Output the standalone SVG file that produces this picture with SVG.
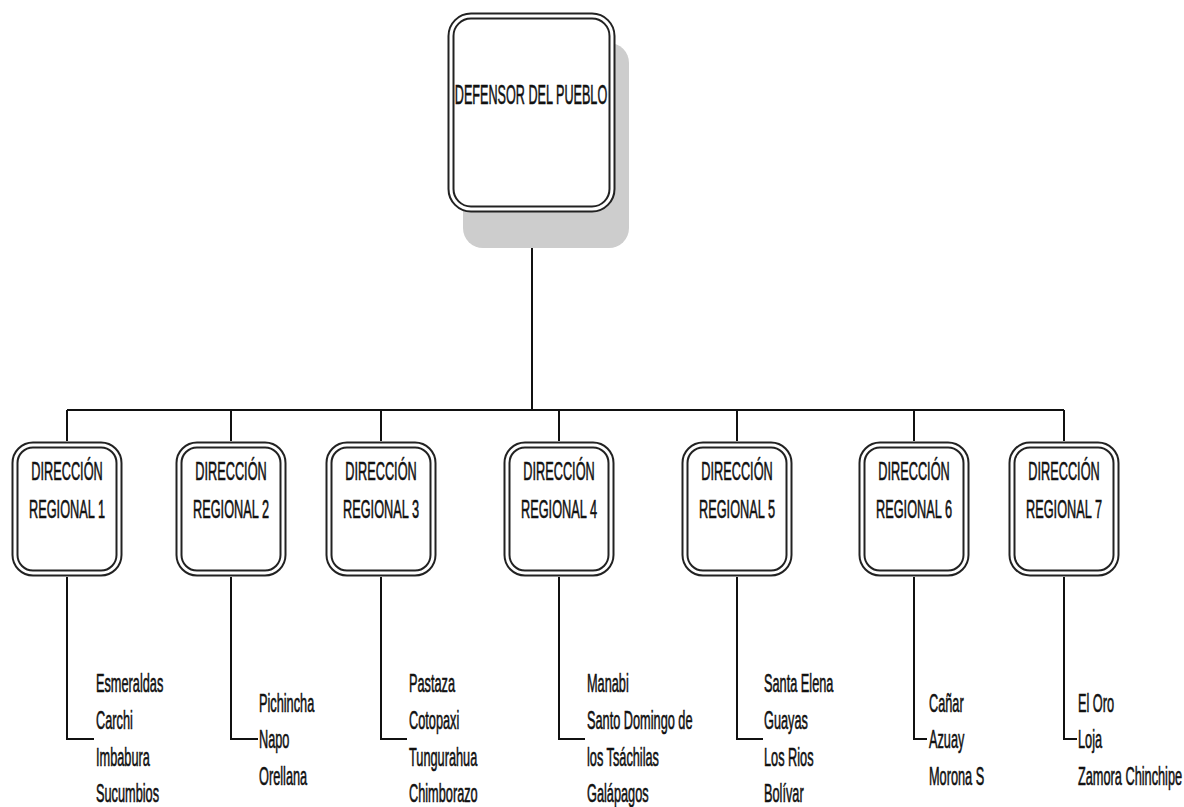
<svg xmlns="http://www.w3.org/2000/svg" width="1184" height="807" viewBox="0 0 1184 807">
<style>
.bg{fill:#ffffff}
.shadow{fill:#cdcdcd}
.bo{fill:#ffffff;stroke:#222222;stroke-width:7}
.bi{fill:none;stroke:#ffffff;stroke-width:3}
.t{font-family:"Liberation Sans",Arial,sans-serif;font-size:25px;fill:#111111;stroke:#111111;stroke-width:0.6}
.tt{font-family:"Liberation Sans",Arial,sans-serif;font-size:28px;fill:#111111;stroke:#111111;stroke-width:0.6}
.c{text-anchor:middle}
.ln{fill:none;stroke:#111111;stroke-width:2}
</style>
<rect class="bg" x="0" y="0" width="1184" height="807"/>
<g id="connectors">
<path class="ln" d="M532 212V410M67 410H1064M67 410V441M231 410V441M381 410V441M559 410V441M737 410V441M914 410V441M1064 410V441"/>
<path class="ln" d="M67 577V739H94M231 577V739H258M381 577V739H407M559 577V739H585M737 577V739H763M914 577V739H927M1064 577V739H1077"/>
</g>
<g id="defensor">
<rect class="shadow" x="463" y="43" width="166" height="205" rx="20"/>
<rect class="bo" x="451" y="16" width="161" height="193" rx="20"/>
<rect class="bi" x="451" y="16" width="161" height="193" rx="20"/>
<text class="tt c" transform="translate(531,104) scale(0.451,1)">DEFENSOR DEL PUEBLO</text>
</g>
<g id="dr1">
<rect class="bo" x="15" y="445" width="104" height="128" rx="18"/>
<rect class="bi" x="15" y="445" width="104" height="128" rx="18"/>
<text class="t c" transform="translate(67,480) scale(0.51,1)">DIRECCIÓN</text>
<text class="t c" transform="translate(67,518) scale(0.51,1)">REGIONAL 1</text>
</g>
<g id="dr2">
<rect class="bo" x="179" y="445" width="104" height="128" rx="18"/>
<rect class="bi" x="179" y="445" width="104" height="128" rx="18"/>
<text class="t c" transform="translate(231,480) scale(0.51,1)">DIRECCIÓN</text>
<text class="t c" transform="translate(231,518) scale(0.51,1)">REGIONAL 2</text>
</g>
<g id="dr3">
<rect class="bo" x="329" y="445" width="104" height="128" rx="18"/>
<rect class="bi" x="329" y="445" width="104" height="128" rx="18"/>
<text class="t c" transform="translate(381,480) scale(0.51,1)">DIRECCIÓN</text>
<text class="t c" transform="translate(381,518) scale(0.51,1)">REGIONAL 3</text>
</g>
<g id="dr4">
<rect class="bo" x="507" y="445" width="104" height="128" rx="18"/>
<rect class="bi" x="507" y="445" width="104" height="128" rx="18"/>
<text class="t c" transform="translate(559,480) scale(0.51,1)">DIRECCIÓN</text>
<text class="t c" transform="translate(559,518) scale(0.51,1)">REGIONAL 4</text>
</g>
<g id="dr5">
<rect class="bo" x="685" y="445" width="104" height="128" rx="18"/>
<rect class="bi" x="685" y="445" width="104" height="128" rx="18"/>
<text class="t c" transform="translate(737,480) scale(0.51,1)">DIRECCIÓN</text>
<text class="t c" transform="translate(737,518) scale(0.51,1)">REGIONAL 5</text>
</g>
<g id="dr6">
<rect class="bo" x="862" y="445" width="104" height="128" rx="18"/>
<rect class="bi" x="862" y="445" width="104" height="128" rx="18"/>
<text class="t c" transform="translate(914,480) scale(0.51,1)">DIRECCIÓN</text>
<text class="t c" transform="translate(914,518) scale(0.51,1)">REGIONAL 6</text>
</g>
<g id="dr7">
<rect class="bo" x="1012" y="445" width="104" height="128" rx="18"/>
<rect class="bi" x="1012" y="445" width="104" height="128" rx="18"/>
<text class="t c" transform="translate(1064,480) scale(0.51,1)">DIRECCIÓN</text>
<text class="t c" transform="translate(1064,518) scale(0.51,1)">REGIONAL 7</text>
</g>
<g id="list1">
<text class="t" transform="translate(96,692) scale(0.51,1)">Esmeraldas</text>
<text class="t" transform="translate(96,729) scale(0.51,1)">Carchi</text>
<text class="t" transform="translate(96,766) scale(0.51,1)">Imbabura</text>
<text class="t" transform="translate(96,802) scale(0.51,1)">Sucumbios</text>
</g>
<g id="list2">
<text class="t" transform="translate(259,712) scale(0.51,1)">Pichincha</text>
<text class="t" transform="translate(259,748) scale(0.51,1)">Napo</text>
<text class="t" transform="translate(259,785) scale(0.51,1)">Orellana</text>
</g>
<g id="list3">
<text class="t" transform="translate(409,692) scale(0.51,1)">Pastaza</text>
<text class="t" transform="translate(409,729) scale(0.51,1)">Cotopaxi</text>
<text class="t" transform="translate(409,766) scale(0.51,1)">Tungurahua</text>
<text class="t" transform="translate(409,802) scale(0.51,1)">Chimborazo</text>
</g>
<g id="list4">
<text class="t" transform="translate(587,692) scale(0.51,1)">Manabi</text>
<text class="t" transform="translate(587,729) scale(0.51,1)">Santo Domingo de</text>
<text class="t" transform="translate(587,766) scale(0.51,1)">los Tsáchilas</text>
<text class="t" transform="translate(587,802) scale(0.51,1)">Galápagos</text>
</g>
<g id="list5">
<text class="t" transform="translate(764,692) scale(0.51,1)">Santa Elena</text>
<text class="t" transform="translate(764,729) scale(0.51,1)">Guayas</text>
<text class="t" transform="translate(764,766) scale(0.51,1)">Los Rios</text>
<text class="t" transform="translate(764,802) scale(0.51,1)">Bolívar</text>
</g>
<g id="list6">
<text class="t" transform="translate(929,712) scale(0.51,1)">Cañar</text>
<text class="t" transform="translate(929,748) scale(0.51,1)">Azuay</text>
<text class="t" transform="translate(929,785) scale(0.51,1)">Morona S</text>
</g>
<g id="list7">
<text class="t" transform="translate(1078,712) scale(0.51,1)">El Oro</text>
<text class="t" transform="translate(1078,748) scale(0.51,1)">Loja</text>
<text class="t" transform="translate(1078,785) scale(0.51,1)">Zamora Chinchipe</text>
</g>
</svg>
